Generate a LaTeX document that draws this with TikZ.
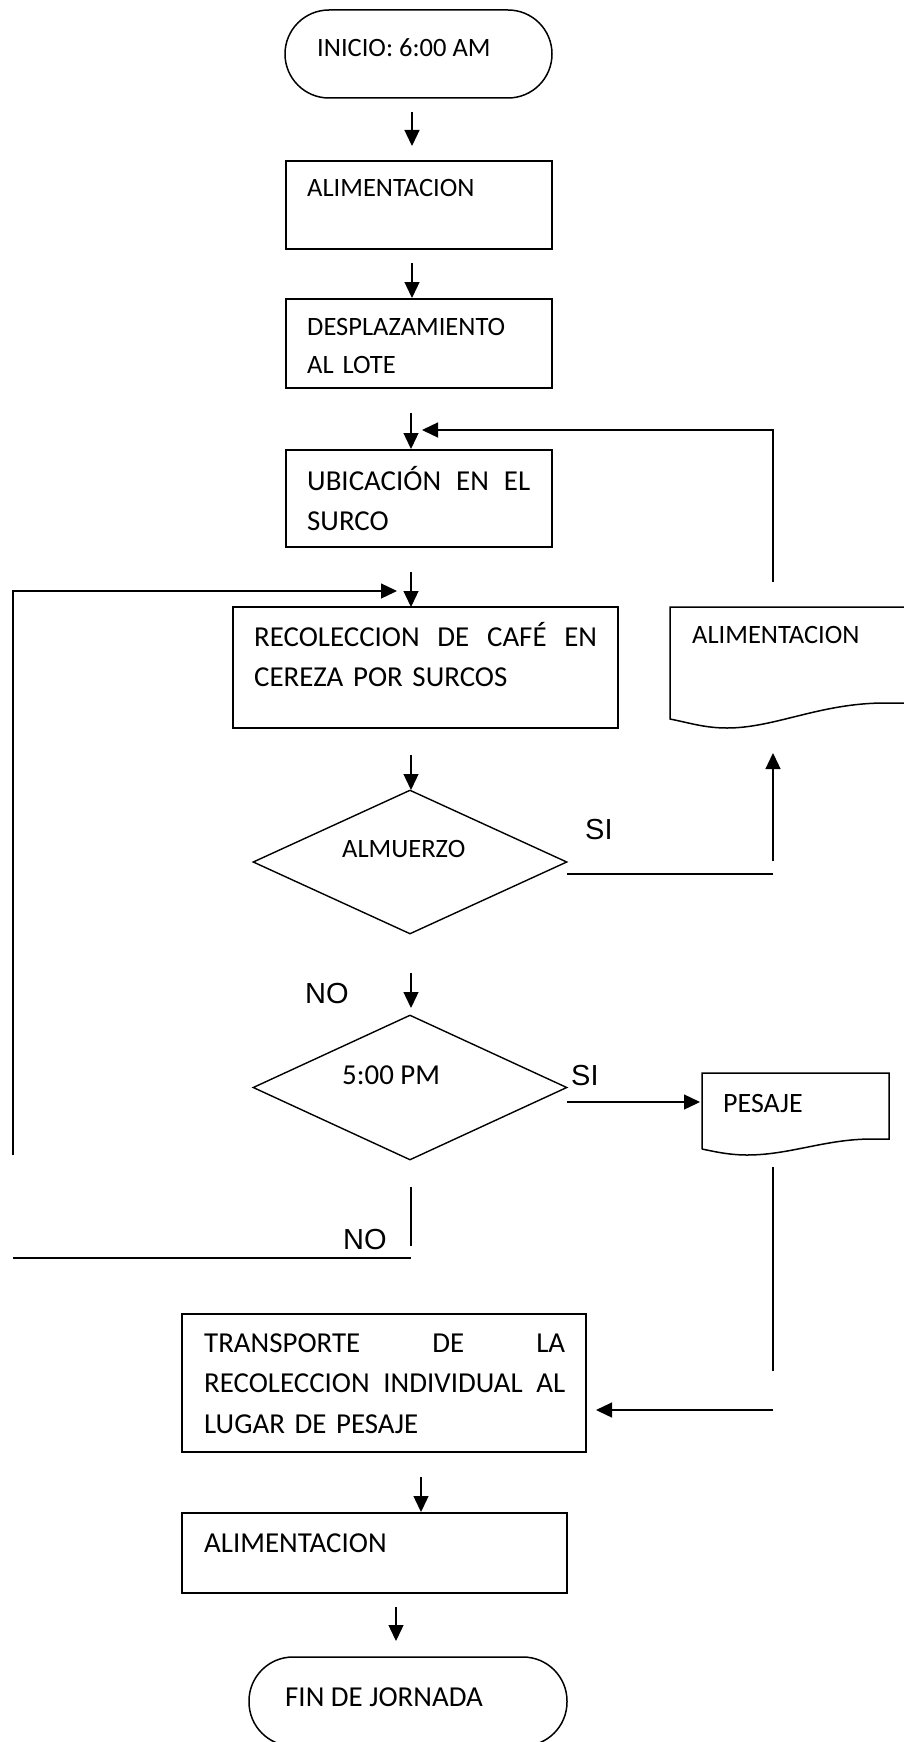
\documentclass[tikz,border=0pt]{standalone}
\usepackage{fontspec}
\setmainfont{Carlito}
\newfontfamily\arialf{Liberation Sans}
\usetikzlibrary{shapes.geometric,arrows.meta}
\begin{document}
\begin{tikzpicture}[x=1pt,y=-1pt,
  shapebox/.style={draw,line width=1.5pt,inner sep=0pt},
  decision/.style={draw,diamond,line width=1.4pt,inner sep=0pt},
  txt/.style={inner sep=0pt,anchor=base west,font=\fontsize{26.5}{38.5}\selectfont,align=left},
  txtb/.style={inner sep=0pt,anchor=base west,font=\fontsize{28.9}{40.8}\selectfont,align=left},
  lbl/.style={inner sep=0pt,anchor=base west,font=\arialf\fontsize{29}{34}\selectfont},
  arr/.style={line width=1.3pt,-{Triangle[length=16pt,width=15pt]}},
  ln/.style={line width=1.3pt}]
\useasboundingbox (0,0) rectangle (904,1742);

% shapes
\node[shapebox,rounded corners=44pt,minimum width=267pt,minimum height=88pt] (start) at (418.5,54) {};
\node[txt] (startt) at (317,57) {INICIO: 6:00 AM};

\node[shapebox,minimum width=266pt,minimum height=88pt] (b1) at (419,205) {};
\node[txt] (b1t) at (307,196) {ALIMENTACION};

\node[shapebox,minimum width=266pt,minimum height=89pt] (b2) at (419,343.5) {};
\node[txt,text width=223pt] (b2t) at (307,335) {DESPLAZAMIENTO\\AL LOTE};

\node[shapebox,minimum width=266pt,minimum height=97pt] (b3) at (419,498.5) {};
\node[txtb,text width=223pt] (b3t) at (307,490) {UBICACIÓN\hfill EN\hfill EL\\SURCO};

\node[shapebox,minimum width=385pt,minimum height=121pt] (b4) at (425.5,667.5) {};
\node[txtb,text width=343pt] (b4t) at (254,646) {RECOLECCION\hfill DE\hfill CAFÉ\hfill EN\\CEREZA POR SURCOS};

\node[decision,minimum width=314pt,minimum height=144pt] (d1) at (410,862) {};
\node[txt] (d1t) at (342,857) {ALMUERZO};

\node[decision,minimum width=314pt,minimum height=145pt] (d2) at (410,1087.5) {};
\node[txtb] (d2t) at (342,1084) {5:00 PM};

% document shape ALIMENTACION
\draw[line width=1.5pt] (915,607) -- (670,607) -- (670,719)
  .. controls (690,723) and (705,728) .. (727,728)
  .. controls (775,728) and (820,703) .. (885,703) -- (915,703);
\node[txt] (doc1t) at (692,643) {ALIMENTACION};

% document shape PESAJE
\draw[line width=1.5pt] (702,1149) -- (702,1073) -- (889,1073) -- (889,1139) -- (872,1139)
  .. controls (825,1139) and (790,1155) .. (747,1155)
  .. controls (728,1155) and (712,1151) .. (702,1149);
\node[txt,font=\fontsize{28}{34}\selectfont] (doc2t) at (723,1112) {PESAJE};

\node[shapebox,minimum width=404pt,minimum height=138pt] (b7) at (384,1383) {};
\node[txtb,text width=361pt] (b7t) at (204,1352) {TRANSPORTE\hfill DE\hfill LA\\RECOLECCION\hfill INDIVIDUAL\hfill AL\\LUGAR DE PESAJE};

\node[shapebox,minimum width=385pt,minimum height=80pt] (b8) at (374.5,1553) {};
\node[txtb] (b8t) at (204,1552) {ALIMENTACION};

\node[shapebox,rounded corners=44pt,minimum width=318pt,minimum height=89pt] (fin) at (408,1701.5) {};
\node[txtb] (fint) at (285,1706) {FIN DE JORNADA};

% labels
\node[lbl] (si1) at (585,839) {SI};
\node[lbl] (no1) at (305,1003) {NO};
\node[lbl] (si2) at (571,1085) {SI};
\node[lbl] (no2) at (343,1249) {NO};

% connector end points
\coordinate (a1s) at (412,112);  \coordinate (a1e) at (412,146);
\coordinate (a2s) at (412,263);  \coordinate (a2e) at (412,298);
\coordinate (a3s) at (411,413);  \coordinate (a3e) at (411,449);
\coordinate (fbA) at (773,582);  \coordinate (fbB) at (773,430); \coordinate (fbC) at (422,430);
\coordinate (a4s) at (411,572);  \coordinate (a4e) at (411,607);
\coordinate (lpA) at (13,1155);  \coordinate (lpB) at (13,591);  \coordinate (lpC) at (397,591);
\coordinate (a5s) at (411,755);  \coordinate (a5e) at (411,790);
\coordinate (s1A) at (567,874);  \coordinate (s1B) at (773,874);
\coordinate (s1C) at (773,861);  \coordinate (s1D) at (773,753);
\coordinate (a6s) at (411,973);  \coordinate (a6e) at (411,1008);
\coordinate (s2A) at (567,1102); \coordinate (s2B) at (700,1102);
\coordinate (n2A) at (411,1187); \coordinate (n2B) at (411,1246);
\coordinate (n2C) at (13,1258);  \coordinate (n2D) at (411,1258);
\coordinate (pA) at (773,1167);  \coordinate (pB) at (773,1371);
\coordinate (pC) at (773,1410);  \coordinate (pD) at (596,1410);
\coordinate (a7s) at (421,1477); \coordinate (a7e) at (421,1512);
\coordinate (a8s) at (396,1607); \coordinate (a8e) at (396,1641);

% connectors
\draw[arr] (a1s) -- (a1e);
\draw[arr] (a2s) -- (a2e);
\draw[arr] (a3s) -- (a3e);
\draw[arr] (fbA) -- (fbB) -- (fbC);
\draw[arr] (a4s) -- (a4e);
\draw[arr] (lpA) -- (lpB) -- (lpC);
\draw[arr] (a5s) -- (a5e);
\draw[ln] (s1A) -- (s1B);
\draw[arr] (s1C) -- (s1D);
\draw[arr] (a6s) -- (a6e);
\draw[arr] (s2A) -- (s2B);
\draw[ln] (n2A) -- (n2B);
\draw[ln] (n2C) -- (n2D);
\draw[ln] (pA) -- (pB);
\draw[arr] (pC) -- (pD);
\draw[arr] (a7s) -- (a7e);
\draw[arr] (a8s) -- (a8e);
\end{tikzpicture}
\end{document}
